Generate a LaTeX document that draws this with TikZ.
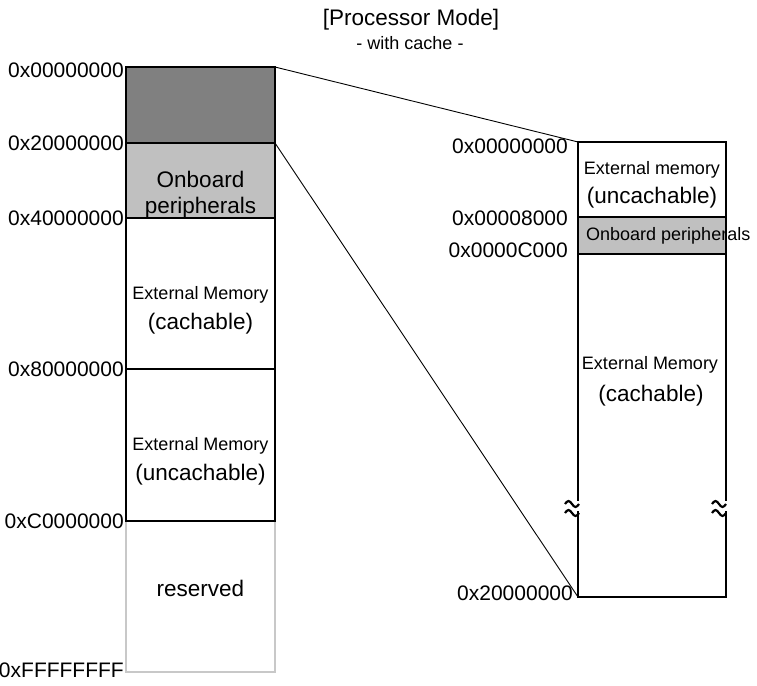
\documentclass[tikz,border=0pt]{standalone}
\usepackage{fontspec}
\setmainfont{Liberation Sans}
\definecolor{darkfill}{HTML}{808080}
\definecolor{lightfill}{HTML}{C0C0C0}
\definecolor{lightedge}{HTML}{C8C8C8}
\begin{document}
\begin{tikzpicture}[x=1pt,y=-1pt,
  region/.style={draw=black, line width=1.2pt, anchor=north west, inner sep=0pt, outer sep=0pt},
  addr/.style={anchor=east, inner sep=0pt, font=\fontsize{21}{21}\selectfont},
  small/.style={anchor=base, inner sep=0pt, font=\fontsize{18}{18}\selectfont},
  big/.style={anchor=base, inner sep=0pt, font=\fontsize{22.5}{22.5}\selectfont},
  link/.style={line width=0.9pt},
  breakgap/.style={fill=white, draw=none},
  tilde/.style={line width=2.2pt}]
\useasboundingbox (0,0) rectangle (757,685);

% title
\node[anchor=base, inner sep=0pt, font=\fontsize{22.5}{22.5}\selectfont] (title) at (411,26) {[Processor Mode]};
\node[anchor=base, inner sep=0pt, font=\fontsize{18}{18}\selectfont] (subtitle) at (410,49) {- with cache -};

% left column
\node[region, draw=lightedge, fill=white, minimum width=149pt, minimum height=151pt] (res) at (126,521) {};
\node[region, fill=darkfill, minimum width=149pt, minimum height=76pt] (L1) at (126,67) {};
\node[region, fill=lightfill, minimum width=149pt, minimum height=75pt] (L2) at (126,143) {};
\node[region, fill=white, minimum width=149pt, minimum height=151pt] (L3) at (126,218) {};
\node[region, fill=white, minimum width=149pt, minimum height=152pt] (L4) at (126,369) {};

% right column
\node[region, fill=white, minimum width=148pt, minimum height=75pt] (R1) at (578,142) {};
\node[region, fill=lightfill, minimum width=148pt, minimum height=37pt] (R2) at (578,217) {};
\node[region, fill=white, minimum width=148pt, minimum height=343pt] (R3) at (578,254) {};

% connectors
\draw[link] (L1.north east) -- (R1.north west);
\draw[link] (L2.north east) -- (R3.south west);

% break marks on right column
\fill[breakgap] (574,500.5) rectangle (582,511);
\fill[breakgap] (722,500.5) rectangle (730,511);
\draw[tilde] (565,504) sin (568.5,501) cos (572,504) sin (575.5,507) cos (579,504);
\draw[tilde] (565,513) sin (568.5,510) cos (572,513) sin (575.5,516) cos (579,513);
\draw[tilde] (712,504) sin (715.5,501) cos (719,504) sin (722.5,507) cos (726,504);
\draw[tilde] (712,513) sin (715.5,510) cos (719,513) sin (722.5,516) cos (726,513);

% left addresses
\node[addr] (a0) at (124,70) {0x00000000};
\node[addr] (a1) at (124,143.5) {0x20000000};
\node[addr] (a2) at (124,218.5) {0x40000000};
\node[addr] (a3) at (124,369.5) {0x80000000};
\node[addr] (a4) at (124,521.5) {0xC0000000};
\node[addr] (a5) at (124,670) {0xFFFFFFFF};

% right addresses
\node[addr] (b0) at (568,146.5) {0x00000000};
\node[addr] (b1) at (568,218.5) {0x00008000};
\node[addr] (b2) at (568,250) {0x0000C000};
\node[addr] (b3) at (573,593) {0x20000000};

% left texts
\node[big] (t1a) at (200.5,187) {Onboard};
\node[big] (t1b) at (200.5,213) {peripherals};
\node[small] (t2a) at (200.5,299) {External Memory};
\node[big] (t2b) at (200.5,329) {(cachable)};
\node[small] (t3a) at (200.5,450) {External Memory};
\node[big] (t3b) at (200.5,480) {(uncachable)};
\node[big] (t4) at (200.5,596) {reserved};

% right texts
\node[small] (u1a) at (652,174) {External memory};
\node[big] (u1b) at (652,203) {(uncachable)};
\node[small, anchor=base west] (u2) at (586,240) {Onboard peripherals};
\node[small] (u3a) at (650,369) {External Memory};
\node[big] (u3b) at (651,401) {(cachable)};
\end{tikzpicture}
\end{document}
